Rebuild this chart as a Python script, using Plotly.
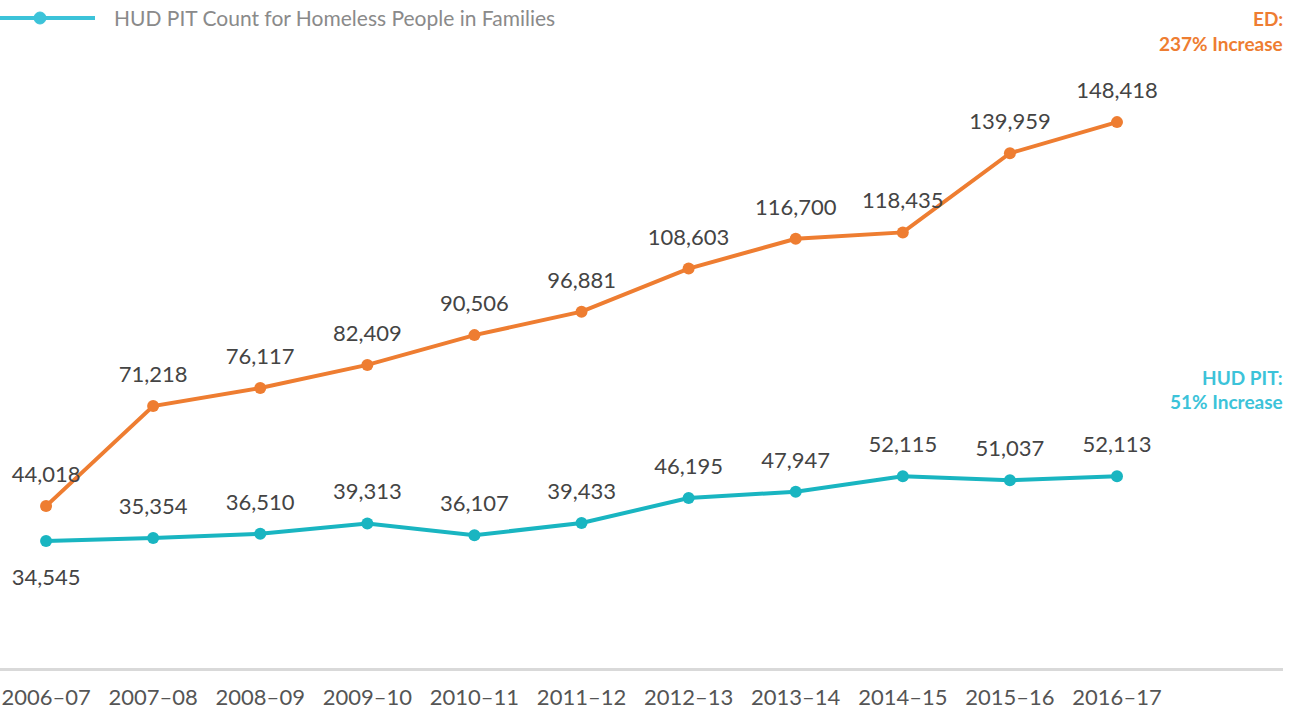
import plotly.graph_objects as go

years = ["2006–07", "2007–08", "2008–09", "2009–10", "2010–11", "2011–12",
         "2012–13", "2013–14", "2014–15", "2015–16", "2016–17"]
ed_values = [44018, 71218, 76117, 82409, 90506, 96881, 108603, 116700, 118435, 139959, 148418]
hud_values = [34545, 35354, 36510, 39313, 36107, 39433, 46195, 47947, 52115, 51037, 52113]
hud_text_pos = ["bottom center"] + ["top center"] * 10

ORANGE = "#EE7D31"
TEAL = "#19B5C1"
LIGHT_TEAL = "#3CC3D9"
FONT = "Lato"
LABEL_FONT = dict(family=FONT, size=22, color="#444444")

fig = go.Figure()
for vals, col in [(ed_values, ORANGE), (hud_values, TEAL)]:
    fig.add_trace(go.Scatter(
        x=years, y=vals, mode="lines+markers",
        line=dict(color=col, width=4), marker=dict(color=col, size=12),
        showlegend=False, cliponaxis=False, hoverinfo="skip",
    ))

# value labels (invisible spacer markers push text off the points)
fig.add_trace(go.Scatter(
    x=years, y=ed_values, mode="markers+text",
    marker=dict(size=28, opacity=0),
    text=[f"{v:,}" for v in ed_values], textposition="top center",
    textfont=LABEL_FONT, showlegend=False, cliponaxis=False,
))
fig.add_trace(go.Scatter(
    x=years, y=hud_values, mode="markers+text",
    marker=dict(size=[42] + [28] * 10, opacity=0),
    text=[f"{v:,}" for v in hud_values], textposition=hud_text_pos,
    textfont=LABEL_FONT, showlegend=False, cliponaxis=False,
))

# manual legend (top-left)
ly = 1 + 22 / 628
fig.add_shape(type="line", xref="paper", yref="paper", x0=0, x1=95 / 1283,
              y0=ly, y1=ly, line=dict(color=LIGHT_TEAL, width=4))
fig.add_shape(type="circle", xref="paper", yref="paper",
              x0=34 / 1283, x1=46 / 1283, y0=ly - 6 / 628, y1=ly + 6 / 628,
              fillcolor=LIGHT_TEAL, line=dict(color=LIGHT_TEAL, width=1))
fig.add_annotation(text="HUD PIT Count for Homeless People in Families",
                   xref="paper", yref="paper", x=112 / 1283, y=ly,
                   xanchor="left", yanchor="middle", showarrow=False,
                   font=dict(family=FONT, size=21, color="#8A8A8A"))

# right-side notes
notes = [("ED:", 1.035, ORANGE), ("237% Increase", 0.995, ORANGE),
         ("HUD PIT:", 0.463, LIGHT_TEAL), ("51% Increase", 0.425, LIGHT_TEAL)]
for txt, yy, col in notes:
    fig.add_annotation(text=f"<b>{txt}</b>", xref="paper", yref="paper", x=1.0015, y=yy,
                       xanchor="right", yanchor="middle", showarrow=False,
                       font=dict(family=FONT, size=19, color=col))

fig.update_layout(
    width=1293, height=710,
    margin=dict(l=0, r=10, t=40, b=42),
    paper_bgcolor="white", plot_bgcolor="white",
    xaxis=dict(type="category", range=[-0.43, 11.55], showgrid=False,
               showline=True, linecolor="#D9D9D9", linewidth=3,
               ticks="", ticklabelstandoff=8,
               tickfont=dict(family=FONT, size=22, color="#555555")),
    yaxis=dict(range=[0, 170745], visible=False, showgrid=False, zeroline=False),
)

fig.write_html("out.html", config={"displayModeBar": False},
               post_script="document.body.style.margin='0';")
